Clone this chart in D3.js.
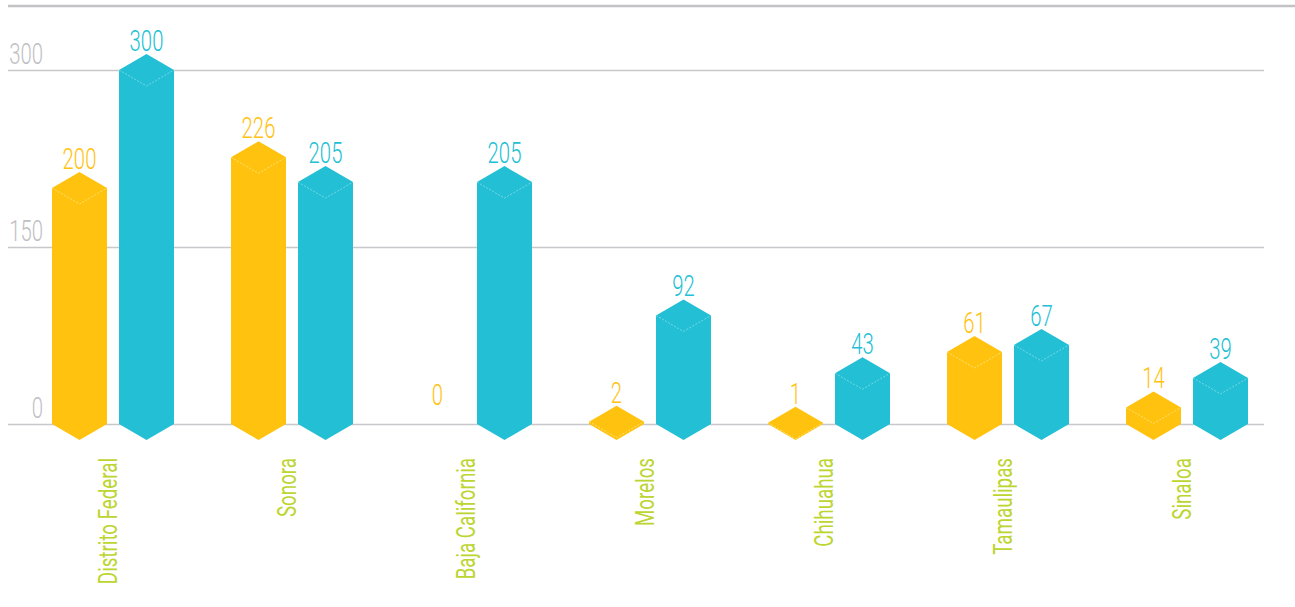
<!DOCTYPE html>
<html>
<head>
<meta charset="utf-8">
<script src="https://cdn.jsdelivr.net/npm/d3@7"></script>
<style>
  html, body { margin: 0; padding: 0; background: #ffffff; }
  svg { display: block; }
  text { font-family: "Roboto", "Open Sans", sans-serif; font-weight: 300; }
</style>
</head>
<body>
<svg id="chart" width="1295" height="607"></svg>
<script>
const categories = ["Distrito Federal", "Sonora", "Baja California", "Morelos", "Chihuahua", "Tamaulipas", "Sinaloa"];
const seriesKeys = ["a", "b"];
const seriesA = [200, 226, 0, 2, 1, 61, 14];
const seriesB = [300, 205, 205, 92, 43, 67, 39];
const tickValues = [0, 150, 300];

const colors = { a: "#ffc20e", b: "#22bfd5" };
const faceLine = { a: "#ffe58a", b: "#8edcea" };
const numScale = 0.7;
const catScale = 0.75;

const svg = d3.select("#chart");

const y = d3.scaleLinear().domain([0, 300]).range([424, 70]);
const x0 = d3.scaleBand().domain(categories).range([52, 52 + 7 * 179]).paddingInner(0).paddingOuter(0);
const x1 = d3.scaleBand().domain(seriesKeys).range([0, 122]).paddingInner(12 / 67).paddingOuter(0);

// top rule
svg.append("line")
  .attr("x1", 8).attr("x2", 1295).attr("y1", 6).attr("y2", 6)
  .attr("stroke", "#c3c3c7").attr("stroke-width", 2.5);

// gridlines + tick labels
const axis = d3.axisLeft(y).tickValues(tickValues).tickSize(-(1264 - 8)).tickFormat(d3.format("d"));
const gAxis = svg.append("g").attr("transform", "translate(8,0)").call(axis);
gAxis.select(".domain").remove();
gAxis.selectAll(".tick line").attr("stroke", "#c8c8cc").attr("stroke-width", 1.5);
gAxis.selectAll(".tick text")
  .attr("x", null).attr("dy", null)
  .attr("transform", `translate(35,-7) scale(${numScale},1)`)
  .attr("text-anchor", "end")
  .attr("fill", "#c0c0c4")
  .style("font-size", "29px")
  .style("font-weight", "300")
  .style("font-family", "Roboto, 'Open Sans', sans-serif");

const data = categories.map((c, i) => ({ cat: c, a: seriesA[i], b: seriesB[i] }));
const h = 16;
const w = x1.bandwidth();

const groups = svg.append("g").selectAll("g").data(data).join("g")
  .attr("transform", d => `translate(${x0(d.cat)},0)`);

groups.each(function (d) {
  const g = d3.select(this);
  seriesKeys.forEach(k => {
    const v = d[k];
    const xl = x1(k), xr = xl + w, cx = xl + w / 2;
    const yt = y(v), yb = y(0);
    if (v > 0) {
      const pts = [[xl, yt], [cx, yt - h], [xr, yt], [xr, yb], [cx, yb + h], [xl, yb]];
      g.append("path")
        .attr("d", d3.line()(pts) + "Z")
        .attr("fill", colors[k]);
      g.append("path")
        .attr("d", d3.line()([[xl, yt], [cx, yt + h], [xr, yt]]))
        .attr("fill", "none")
        .attr("stroke", faceLine[k])
        .attr("stroke-width", 0.8)
        .attr("stroke-dasharray", "2,1.5");
    }
    g.append("text")
      .attr("transform", `translate(${cx},${yt - h - 3}) scale(${numScale},1)`)
      .attr("text-anchor", "middle")
      .attr("fill", colors[k])
      .style("font-size", "29px")
      .text(v);
  });
  g.append("text")
    .attr("transform", `translate(${57 + 8},458) rotate(-90) scale(${catScale},1)`)
    .attr("text-anchor", "end")
    .attr("fill", "#bcd531")
    .style("font-size", "25px")
    .style("font-weight", "400")
    .text(d.cat);
});
</script>
</body>
</html>
